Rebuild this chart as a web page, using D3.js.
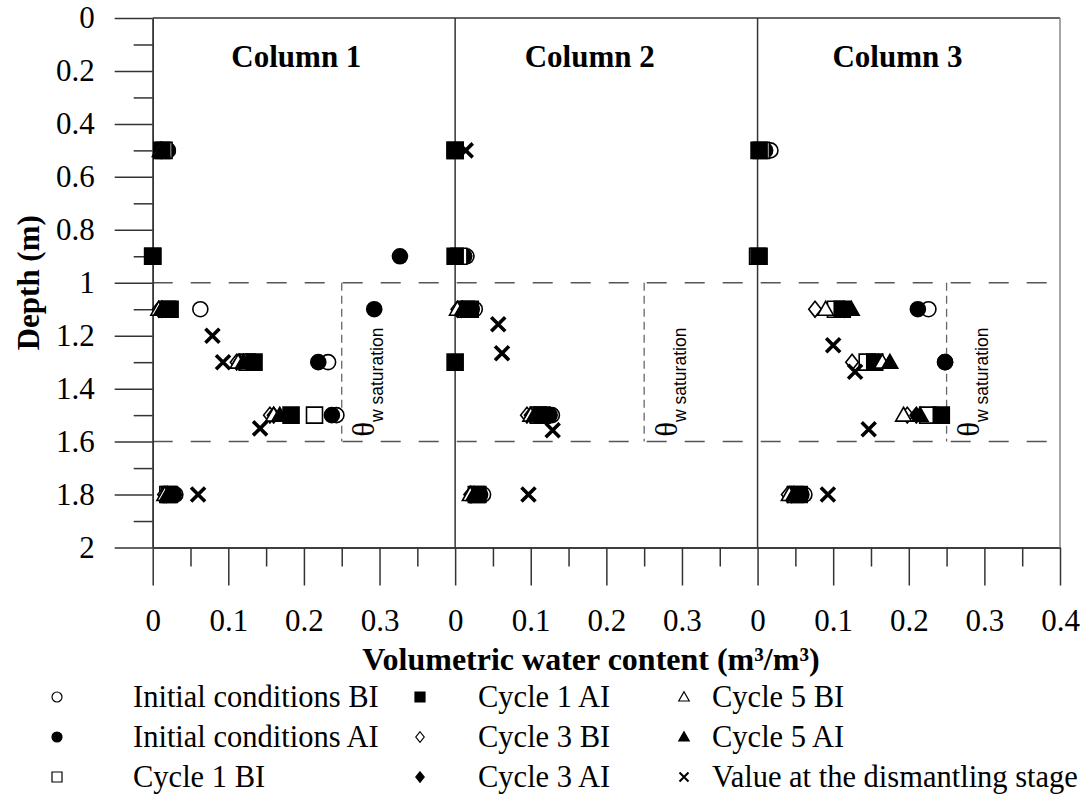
<!DOCTYPE html>
<html>
<head>
<meta charset="utf-8">
<script src="https://cdn.jsdelivr.net/npm/d3@7"></script>
<style>
  html, body { margin: 0; padding: 0; background: #fff; }
  svg { display: block; }
  svg text { font-family: "Liberation Serif", "Times New Roman", "DejaVu Serif", serif !important; fill: #000; }
  svg text.sans, svg tspan.sans { font-family: "Liberation Sans", Arial, sans-serif !important; }
</style>
</head>
<body>
<svg id="chart" width="1089" height="809"></svg>
<script>
// ---------------- DATA ----------------
const columns = ["Column 1", "Column 2", "Column 3"];
const depths = [0.5, 0.9, 1.1, 1.3, 1.5, 1.8];
// values per column (rows) at the depths above; null = not shown
const initialBI = [
  [0.020, 0.000, 0.063, 0.232, 0.243, 0.030],
  [0.000, 0.015, 0.026, null, 0.128, 0.037],
  [0.017, 0.000, 0.226, 0.248, 0.236, 0.062]
];
const initialAI = [
  [0.020, 0.327, 0.293, 0.219, 0.237, 0.028],
  [0.000, 0.012, 0.022, null, 0.125, 0.033],
  [0.010, 0.000, 0.212, 0.248, 0.238, 0.058]
];
const cycle1BI = [
  [0.015, 0.000, 0.020, 0.125, 0.214, 0.020],
  [0.000, 0.005, 0.015, null, 0.110, 0.028],
  [0.005, 0.000, 0.103, 0.145, 0.225, 0.050]
];
const cycle1AI = [
  [0.012, 0.000, 0.023, 0.134, 0.183, 0.022],
  [0.000, 0.000, 0.020, 0.000, 0.115, 0.030],
  [0.002, 0.002, 0.112, 0.155, 0.243, 0.055]
];
const cycle3BI = [
  [0.012, null, 0.008, 0.111, 0.155, 0.015],
  [null, null, 0.003, null, 0.095, 0.020],
  [null, null, 0.076, 0.125, 0.198, 0.040]
];
const cycle3AI = [
  [0.012, null, 0.012, 0.115, 0.160, 0.018],
  [null, null, 0.008, null, 0.100, 0.022],
  [null, null, 0.115, 0.160, 0.210, 0.045]
];
const cycle5BI = [
  [0.010, null, 0.008, 0.113, 0.160, 0.016],
  [null, null, 0.003, null, 0.100, 0.020],
  [null, null, 0.090, 0.165, 0.193, 0.042]
];
const cycle5AI = [
  [0.012, null, 0.012, 0.120, 0.168, 0.020],
  [null, null, 0.010, null, 0.105, 0.025],
  [null, null, 0.124, 0.175, 0.215, 0.048]
];
const dismantlingDepth = [
  [1.20, 1.30, 1.55, 1.80],
  [0.50, 1.157, 1.266, 1.557, 1.80],
  [1.236, 1.336, 1.553, 1.80]
];
const dismantlingValue = [
  [0.079, 0.093, 0.142, 0.060],
  [0.014, 0.057, 0.062, 0.129, 0.097],
  [0.100, 0.129, 0.147, 0.093]
];
const saturationValue = 0.25;
const layerTop = 1.0, layerBottom = 1.6;
const depthTicks = [0, 0.2, 0.4, 0.6, 0.8, 1, 1.2, 1.4, 1.6, 1.8, 2];
const depthMinorTicks = [0.1, 0.3, 0.5, 0.7, 0.9, 1.1, 1.3, 1.5, 1.7, 1.9];
const xTicks = [[0, 0.1, 0.2, 0.3], [0, 0.1, 0.2, 0.3], [0, 0.1, 0.2, 0.3, 0.4]];
const xMinorTicks = [0.05, 0.15, 0.25, 0.35];

const series = [
  { name: "Initial conditions BI", shape: "circle", fill: false, values: initialBI },
  { name: "Initial conditions AI", shape: "circle", fill: true, values: initialAI },
  { name: "Cycle 1 BI", shape: "square", fill: false, values: cycle1BI },
  { name: "Cycle 1 AI", shape: "square", fill: true, values: cycle1AI },
  { name: "Cycle 3 BI", shape: "diamond", fill: false, values: cycle3BI },
  { name: "Cycle 3 AI", shape: "diamond", fill: true, values: cycle3AI },
  { name: "Cycle 5 BI", shape: "triangle", fill: false, values: cycle5BI },
  { name: "Cycle 5 AI", shape: "triangle", fill: true, values: cycle5AI },
  { name: "Value at the dismantling stage", shape: "cross", fill: false, values: null }
];

// ---------------- LAYOUT ----------------
const SERIF = "'Liberation Serif', 'Times New Roman', serif";
const svg = d3.select("#chart");
const plotL = 152.7, plotR = 1060, plotT = 18, plotB = 547.5;
const panelW = (plotR - plotL) / 3;
const y = d3.scaleLinear().domain([0, 2]).range([plotT, plotB]);
const xs = columns.map((c, i) => d3.scaleLinear().domain([0, 0.4]).range([plotL + i * panelW, plotL + (i + 1) * panelW]));

function shapePath(shape, s) {
  const h = s / 2;
  switch (shape) {
    case "circle": return d3.symbol().type(d3.symbolCircle).size(Math.PI * h * h)();
    case "square": return `M${-h},${-h}H${h}V${h}H${-h}Z`;
    case "diamond": { const d = h * 1.05; return `M0,${-d}L${d * 0.8},0L0,${d}L${-d * 0.8},0Z`; }
    case "triangle": return `M0,${-h * 1.05}L${h * 1.05},${h * 0.8}L${-h * 1.05},${h * 0.8}Z`;
    case "cross": return `M${-h},${-h}L${h},${h}M${h},${-h}L${-h},${h}`;
  }
}
function styleMarker(sel, s, big) {
  sel.attr("fill", s.shape === "cross" ? "none" : (s.fill ? "#000" : "#fff"))
     .attr("stroke", "#000")
     .attr("stroke-width", s.shape === "cross" ? (big ? 3.6 : 2) : (big ? 1.6 : 1.2));
}

// reference lines (behind markers)
const gRef = svg.append("g");
[layerTop, layerBottom].forEach(d => {
  gRef.append("line").attr("x1", plotL).attr("x2", plotR)
    .attr("y1", y(d)).attr("y2", y(d))
    .attr("stroke", "#555").attr("stroke-width", 1.5).attr("stroke-dasharray", "20,18");
});
xs.forEach((x, i) => {
  gRef.append("line").attr("x1", x(saturationValue)).attr("x2", x(saturationValue))
    .attr("y1", y(layerTop)).attr("y2", y(layerBottom))
    .attr("stroke", "#666").attr("stroke-width", 1.3).attr("stroke-dasharray", "8,5");
  const t = gRef.append("text")
    .attr("transform", `translate(${x(0.293)},${y(1.582)}) rotate(-90)`);
  t.append("tspan").text("θ").attr("font-size", 31).attr("font-family", SERIF);
  t.append("tspan").attr("class", "sans").text("w saturation").attr("font-size", 17.5)
    .attr("dy", 9).attr("font-family", "'Liberation Sans', Arial, sans-serif");
});

// axes
const axisColor = "#333";
svg.append("g").attr("transform", `translate(${plotL},0)`)
  .call(d3.axisLeft(y).tickValues(depthTicks).tickSize(38).tickSizeOuter(0).tickPadding(20)
    .tickFormat(d => d3.format("~g")(+d.toFixed(1))));
svg.append("g").attr("transform", `translate(${plotL},0)`)
  .call(d3.axisLeft(y).tickValues(depthMinorTicks).tickSize(19).tickSizeOuter(0).tickFormat(""));
xs.forEach((x, i) => {
  svg.append("g").attr("transform", `translate(0,${plotB})`)
    .call(d3.axisBottom(x).tickValues(xTicks[i]).tickSize(38).tickSizeOuter(0).tickPadding(23)
      .tickFormat(d3.format("~g")));
  svg.append("g").attr("transform", `translate(0,${plotB})`)
    .call(d3.axisBottom(x).tickValues(xMinorTicks).tickSize(19).tickSizeOuter(0).tickFormat(""));
});
svg.selectAll("g").attr("font-family", SERIF);
svg.selectAll(".domain, .tick line").attr("stroke", axisColor).attr("stroke-width", 1.5);
svg.selectAll(".tick text").attr("font-size", 31).attr("font-family", SERIF).attr("fill", "#000");

// frame and panel separators
svg.append("line").attr("x1", plotL).attr("x2", plotR).attr("y1", plotT).attr("y2", plotT)
  .attr("stroke", axisColor).attr("stroke-width", 1.5);
svg.append("line").attr("x1", plotR).attr("x2", plotR).attr("y1", plotT).attr("y2", plotB)
  .attr("stroke", "#888").attr("stroke-width", 1.5);
[1, 2].forEach(i => {
  svg.append("line").attr("x1", xs[i](0)).attr("x2", xs[i](0)).attr("y1", plotT).attr("y2", plotB)
    .attr("stroke", axisColor).attr("stroke-width", 1.5);
});

// column titles
const titleOffsets = [0.19, 0.178, 0.185];
columns.forEach((c, i) => {
  svg.append("text").attr("x", xs[i](titleOffsets[i])).attr("y", 67)
    .attr("text-anchor", "middle").attr("font-size", 31).attr("font-weight", "bold")
    .attr("font-family", SERIF).text(c);
});

// markers
const gM = svg.append("g");
series.forEach(s => {
  columns.forEach((c, i) => {
    let pts;
    if (s.values) pts = depths.map((d, k) => ({ d, v: s.values[i][k] })).filter(p => p.v !== null);
    else pts = dismantlingDepth[i].map((d, k) => ({ d, v: dismantlingValue[i][k] }));
    const size = s.shape === "cross" ? 14 : (s.shape === "circle" ? 15 : (s.shape === "square" ? 16 : 15));
    gM.selectAll(null).data(pts).enter().append("path")
      .attr("transform", p => `translate(${xs[i](p.v)},${y(p.d)})`)
      .attr("d", shapePath(s.shape, size))
      .call(sel => styleMarker(sel, s, true));
  });
});

// axis titles
svg.append("text").attr("transform", `translate(39,${(plotT + plotB) / 2}) rotate(-90)`)
  .attr("text-anchor", "middle").attr("font-size", 31).attr("font-weight", "bold")
  .attr("font-family", SERIF).text("Depth (m)");
svg.append("text").attr("x", 591).attr("y", 670).attr("text-anchor", "middle")
  .attr("font-size", 32).attr("font-weight", "bold").attr("font-family", SERIF)
  .text("Volumetric water content (m³/m³)");

// legend (3 rows, column-major)
const legMarkerX = [57, 420, 684];
const legTextX = [133, 478, 712];
const legRowY = [697, 737, 777];
const gL = svg.append("g");
series.forEach((s, idx) => {
  const col = Math.floor(idx / 3), row = idx % 3;
  const g = gL.append("g");
  g.append("path").attr("transform", `translate(${legMarkerX[col]},${legRowY[row]})`)
    .attr("d", shapePath(s.shape, s.shape === "cross" ? 9 : 10))
    .call(sel => styleMarker(sel, s, false));
  g.append("text").attr("x", legTextX[col]).attr("y", legRowY[row] + 10)
    .attr("font-size", 30.5).attr("font-family", SERIF).text(s.name);
});
</script>
</body>
</html>
